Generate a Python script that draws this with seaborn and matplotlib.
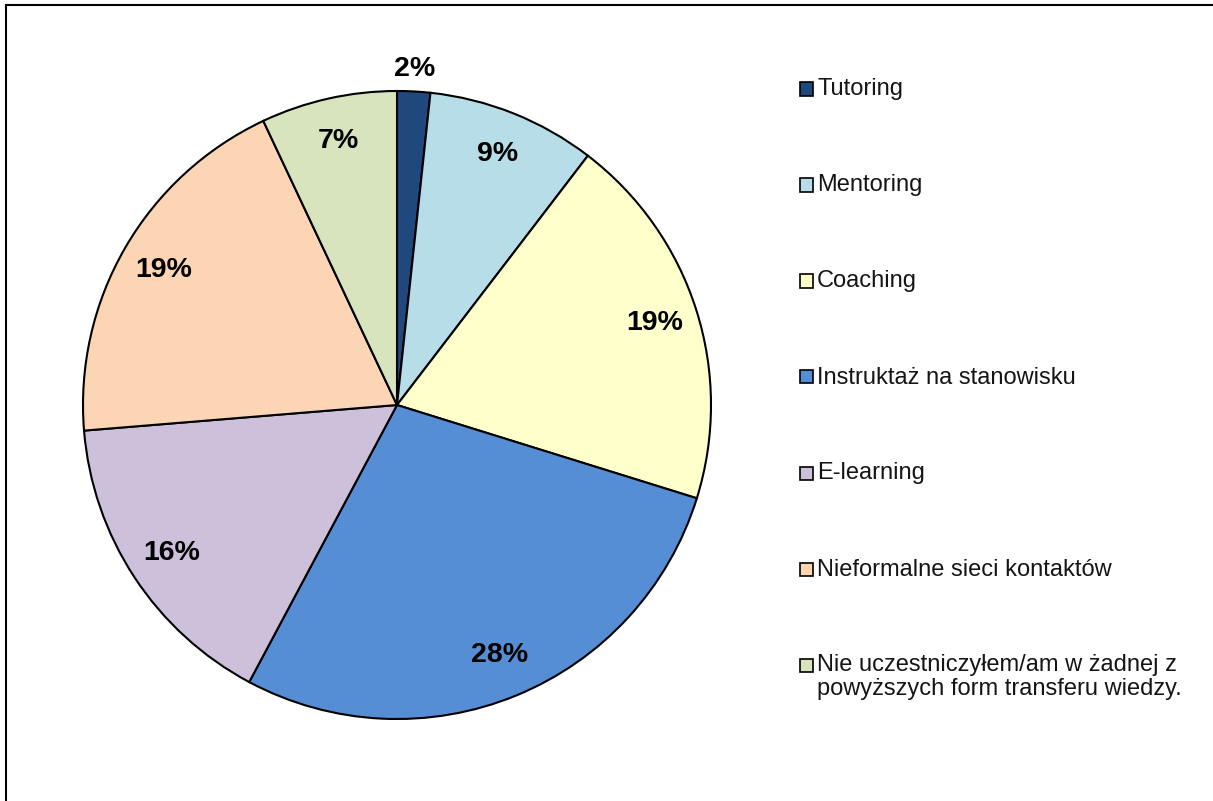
import numpy as np
import matplotlib
matplotlib.use("Agg")
import matplotlib.pyplot as plt
import seaborn as sns
from matplotlib.patches import Rectangle

categories = ["Tutoring", "Mentoring", "Coaching", "Instruktaż na stanowisku",
              "E-learning", "Nieformalne sieci kontaktów",
              "Nie uczestniczyłem/am w żadnej z\npowyższych form transferu wiedzy."]
values = [1.7, 8.7, 19.4, 28.0, 15.9, 19.3, 7.0]
pct_labels = ["2%", "9%", "19%", "28%", "16%", "19%", "7%"]
colors = ["#1F497D", "#B7DEE8", "#FFFFCC", "#558ED5", "#CCC0DA", "#FCD5B5", "#D7E4BD"]

sns.set_theme(style="white")
plt.rcParams['font.family'] = ['Liberation Sans', 'DejaVu Sans']

W, H = 1213, 801
fig = plt.figure(figsize=(W / 100, H / 100), dpi=100)
fig.patch.set_facecolor("white")

# outer frame
fig.add_artist(Rectangle((6 / W, -0.01), 1.05, (H - 5) / H + 0.01, transform=fig.transFigure,
                         fill=False, edgecolor="black", linewidth=1.5))

cx, cy, r = 397, 405, 314
ax = fig.add_axes([(cx - r) / W, (H - cy - r) / H, 2 * r / W, 2 * r / H])
wedges, _ = ax.pie(values, colors=colors, startangle=90, counterclock=False,
                   radius=1.0, wedgeprops=dict(edgecolor="black", linewidth=1.5))
ax.set_xlim(-1, 1)
ax.set_ylim(-1, 1)
ax.set_aspect("equal")
ax.axis("off")

for i, (w, lab) in enumerate(zip(wedges, pct_labels)):
    ang = np.deg2rad((w.theta1 + w.theta2) / 2)
    d = 1.07 if i == 0 else 0.86
    ax.text(d * np.cos(ang), d * np.sin(ang), lab, ha="center", va="center",
            fontsize=20.5, fontweight="bold", color="black")

# legend (drawn manually to mimic the spreadsheet layout)
y0, step = 89, 96
for i, (c, lab) in enumerate(zip(colors, categories)):
    yc = y0 + step * i
    fig.add_artist(Rectangle((800 / W, 1 - (yc + 6.5) / H), 13 / W, 13 / H,
                             transform=fig.transFigure, facecolor=c,
                             edgecolor="black", linewidth=1.2))
    fig.text(817 / W, 1 - (yc - 10.5) / H, lab, ha="left", va="top",
             fontsize=17, color="#151515", linespacing=1.1)

fig.savefig("out.png", dpi=100, facecolor="white")
